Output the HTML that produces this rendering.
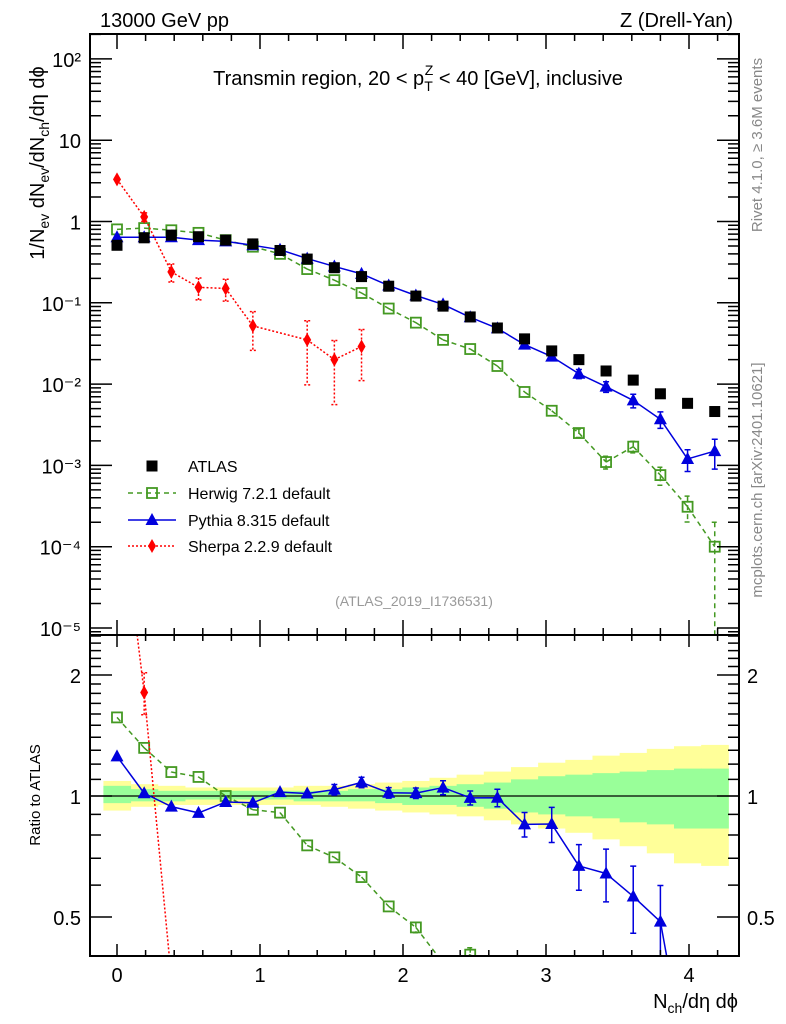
<!DOCTYPE html>
<html><head><meta charset="utf-8"><style>
html,body{margin:0;padding:0;background:#fff;overflow:hidden;width:786px;height:1024px;}
svg{display:block;font-family:"Liberation Sans",Arial,sans-serif;}
</style></head><body>
<svg id="chart" width="786" height="1024" viewBox="0 0 786 1024" xmlns="http://www.w3.org/2000/svg">
<defs>
<clipPath id="clipMain"><rect x="90" y="34" width="649" height="601"/></clipPath>
<clipPath id="clipRatio"><rect x="90" y="635" width="649" height="321"/></clipPath>
</defs>
<g id="bands" clip-path="url(#clipRatio)"></g>
<g id="marksMain" clip-path="url(#clipMain)"></g>
<g id="marksRatio" clip-path="url(#clipRatio)"></g>
<g id="axes"></g>
<text x="100" y="27" font-size="20">13000 GeV pp</text>
<text x="733" y="27" font-size="20" text-anchor="end">Z (Drell-Yan)</text>
<text x="418" y="85" font-size="20" text-anchor="middle">Transmin region, 20 &lt; p<tspan font-size="14" dy="6">T</tspan><tspan font-size="14" dx="-8" dy="-16">Z</tspan><tspan dy="10"> &lt; 40 [GeV], inclusive</tspan></text>
<text transform="translate(44,163) rotate(-90)" font-size="20" text-anchor="middle">1/N<tspan font-size="14" dy="5">ev</tspan><tspan dy="-5"> dN</tspan><tspan font-size="14" dy="5">ev</tspan><tspan dy="-5">/dN</tspan><tspan font-size="14" dy="5">ch</tspan><tspan dy="-5">/dη dϕ</tspan></text>
<text transform="translate(40,795) rotate(-90)" font-size="15" text-anchor="middle">Ratio to ATLAS</text>
<text x="738" y="1008" font-size="20" text-anchor="end">N<tspan font-size="14" dy="5">ch</tspan><tspan dy="-5">/dη dϕ</tspan></text>
<text transform="translate(762,145) rotate(-90)" font-size="15" fill="#888" text-anchor="middle">Rivet 4.1.0, ≥ 3.6M events</text>
<text transform="translate(762,480) rotate(-90)" font-size="15" fill="#888" text-anchor="middle">mcplots.cern.ch [arXiv:2401.10621]</text>
<text x="414" y="606" font-size="14" fill="#999" text-anchor="middle">(ATLAS_2019_I1736531)</text>
<g id="legend"></g>
</svg>
<script>
const xs = [0,0.19,0.38,0.57,0.76,0.95,1.14,1.33,1.52,1.71,1.9,2.09,2.28,2.47,2.66,2.85,3.04,3.23,3.42,3.61,3.8,3.99,4.18];
const atlas = [0.51,0.63,0.68,0.65,0.59,0.53,0.44,0.345,0.27,0.21,0.16,0.121,0.091,0.067,0.049,0.036,0.0256,0.020,0.0145,0.0112,0.0076,0.0058,0.0046];
const herwig = [0.80,0.83,0.78,0.725,0.59,0.49,0.40,0.26,0.19,0.132,0.085,0.057,0.035,0.027,0.0167,0.0080,0.0047,0.0025,0.0011,0.0017,0.00076,0.00031,0.0001];
const herwigErr = [0.01,0.01,0.01,0.01,0.01,0.01,0.01,0.01,0.01,0.02,0.02,0.03,0.03,0.04,0.05,0.06,0.08,0.12,0.18,0.16,0.25,0.35,1.0];
const pythia = [0.64,0.64,0.64,0.59,0.57,0.51,0.45,0.35,0.28,0.227,0.163,0.123,0.0955,0.0663,0.0485,0.0306,0.0218,0.0134,0.0093,0.0063,0.0037,0.0012,0.0015];
const pythiaErr = [0.01,0.01,0.01,0.01,0.01,0.01,0.02,0.02,0.03,0.03,0.03,0.03,0.04,0.04,0.05,0.07,0.1,0.13,0.15,0.19,0.23,0.3,0.4];
const sherpaX = [0,0.19,0.38,0.57,0.76,0.95,1.33,1.52,1.71];
const sherpa = [3.3,1.14,0.24,0.155,0.15,0.052,0.035,0.020,0.029];
const sherpaErr = [0.1,0.12,0.25,0.3,0.3,0.5,0.72,0.72,0.62];
const bandYUp = [0.09,0.07,0.06,0.05,0.05,0.05,0.05,0.06,0.06,0.07,0.08,0.09,0.11,0.13,0.15,0.18,0.21,0.23,0.26,0.28,0.31,0.33,0.34];
const bandYDn = [0.08,0.06,0.05,0.05,0.05,0.05,0.05,0.05,0.06,0.07,0.08,0.09,0.10,0.11,0.13,0.15,0.17,0.19,0.22,0.25,0.28,0.32,0.33];
const bandGUp = [0.06,0.04,0.03,0.03,0.03,0.03,0.03,0.03,0.03,0.04,0.04,0.05,0.06,0.07,0.08,0.10,0.12,0.13,0.14,0.15,0.16,0.17,0.17];
const bandGDn = [0.04,0.03,0.03,0.02,0.02,0.02,0.02,0.03,0.03,0.03,0.04,0.05,0.05,0.06,0.07,0.09,0.10,0.11,0.12,0.14,0.15,0.17,0.17];
const xTicks = [0,1,2,3,4];
const yTicksMain = [2,1,0,-1,-2,-3,-4,-5];
const yTickLabelsMain = ["10²","10","1","10⁻¹","10⁻²","10⁻³","10⁻⁴","10⁻⁵"];
const ratioTicks = [0.5,1,2];
const ratioTickLabels = ["0.5","1","2"];

const NS="http://www.w3.org/2000/svg";
const L=90,R=739,TOP=34,MB=635,RB=956;
const X=v=>117+143*v;
const YM=v=>221.5-81.3*Math.log10(v);
const YR=r=>796-121*Math.log2(r);
function mk(tag,attrs,parent){const e=document.createElementNS(NS,tag);for(const k in attrs)e.setAttribute(k,attrs[k]);parent.appendChild(e);return e;}
const axes=document.getElementById('axes'),mm=document.getElementById('marksMain'),mr=document.getElementById('marksRatio'),bands=document.getElementById('bands'),leg=document.getElementById('legend');

function band(up,dn,col,name){
  xs.forEach((x,i)=>{
    const x0=X(x-0.095),x1=X(x+0.095);
    const y0=YR(1+up[i]),y1=YR(1-dn[i]);
    const r=mk('rect',{x:x0,y:y0,width:x1-x0+0.5,height:y1-y0,fill:col},bands);
    
    
  });
}
band(bandYUp,bandYDn,'#ffff99','yellow-band');
band(bandGUp,bandGDn,'#99ff99','green-band');
const ref=mk('line',{x1:L,x2:R,y1:YR(1),y2:YR(1),stroke:'#000','stroke-width':1.3},bands);



function marker(type,cx,cy,col,parent,name){
  let e;
  if(type==='sq') e=mk('rect',{x:cx-5.5,y:cy-5.5,width:11,height:11,fill:'#000'},parent);
  else if(type==='osq') e=mk('rect',{x:cx-5,y:cy-5,width:10,height:10,fill:'none',stroke:col,'stroke-width':1.8},parent);
  else if(type==='tri') e=mk('path',{d:`M${cx},${cy-7}L${cx+6.5},${cy+5}L${cx-6.5},${cy+5}Z`,fill:col},parent);
  else e=mk('path',{d:`M${cx},${cy-7}L${cx+4},${cy}L${cx},${cy+7}L${cx-4},${cy}Z`,fill:col},parent);
  
  
  return e;
}
// clip segment vertically to [ymin,ymax] (geometric, keeps direction)
function clipSeg(a,b,ymin,ymax){
  let [x1,y1]=a,[x2,y2]=b;
  if((y1<ymin&&y2<ymin)||(y1>ymax&&y2>ymax))return null;
  const f=(y)=>x1+(x2-x1)*(y-y1)/(y2-y1);
  if(y1<ymin){x1=f(ymin);y1=ymin;} else if(y1>ymax){x1=f(ymax);y1=ymax;}
  [x2,y2]=b;
  const g=(y)=>a[0]+(b[0]-a[0])*(y-a[1])/(b[1]-a[1]);
  if(y2<ymin){x2=g(ymin);y2=ymin;} else if(y2>ymax){x2=g(ymax);y2=ymax;}
  return [x1,y1,x2,y2];
}
function series(xv,vals,errs,col,dash,type,name,parent,Y,ratio){
  const top=ratio?MB:TOP,bot=ratio?RB:MB;
  const pts=xv.map((x,i)=>{const v=ratio?vals[i]/atlas[xs.indexOf(x)]:vals[i];return [X(x),Y(v),v,errs[i]];});
  let d='';
  for(let i=0;i<pts.length-1;i++){
    const s=clipSeg(pts[i],pts[i+1],top-40,bot+40);
    if(s)d+=`M${s[0]},${s[1]}L${s[2]},${s[3]}`;
  }
  const ln=mk('path',{d:d,fill:'none',stroke:col,'stroke-width':1.5,'stroke-dasharray':dash},parent);
  
  
  pts.forEach(p=>{
    if(p[1]<top||p[1]>bot)return;
    const lo=Math.max(p[2]*(1-p[3]),1e-6),hi=p[2]*(1+p[3]);
    const y1=Math.max(Y(hi),top-20),y2=Math.min(Y(lo),bot+20);
    if(y2-y1>8){
      const eb=mk('path',{d:`M${p[0]},${y1}V${y2}M${p[0]-3},${y1}H${p[0]+3}M${p[0]-3},${y2}H${p[0]+3}`,stroke:col,'stroke-width':1.5,fill:'none','stroke-dasharray':dash},parent);
      
      
    }
    marker(type,p[0],p[1],col,parent,name+'-point');
  });
}
series(xs,herwig,herwigErr,'#449922','5,4','osq','herwig',mm,YM,false);
series(sherpaX,sherpa,sherpaErr,'#ff0000','2,2','dia','sherpa',mm,YM,false);
series(xs,pythia,pythiaErr,'#0000dd','','tri','pythia',mm,YM,false);
xs.forEach((x,i)=>marker('sq',X(x),YM(atlas[i]),'#000',mm,'atlas-point'));
series(xs,herwig,herwigErr,'#449922','5,4','osq','herwig-ratio',mr,YR,true);
series(sherpaX,sherpa,sherpaErr,'#ff0000','2,2','dia','sherpa-ratio',mr,YR,true);
series(xs,pythia,pythiaErr,'#0000dd','','tri','pythia-ratio',mr,YR,true);

const f1=mk('rect',{x:L,y:TOP,width:R-L,height:MB-TOP,fill:'none',stroke:'#000','stroke-width':2},axes);


const f2=mk('rect',{x:L,y:MB,width:R-L,height:RB-MB,fill:'none',stroke:'#000','stroke-width':2},axes);


let d='';
for(let v=-0.2;v<=4.35;v+=0.2){const vv=Math.round(v*10)/10;const px=X(vv);if(px<L||px>R)continue;
  const major=Math.abs(vv-Math.round(vv))<1e-6;const len=major?15:7;
  d+=`M${px},${MB}V${MB-len}M${px},${TOP}V${TOP+len}M${px},${RB}V${RB-(major?12:6)}M${px},${MB}V${MB+(major?12:6)}`;}
for(let e=-6;e<=2;e++){for(let m=1;m<10;m++){const py=YM(m*Math.pow(10,e));if(py<TOP||py>MB)continue;const len=m===1?22:11;d+=`M${L},${py}H${L+len}M${R},${py}H${R-len}`;}}
for(let r=0.4;r<=2.6;r+=0.1){const rr=Math.round(r*10)/10;const py=YR(rr);if(py<MB||py>RB)continue;const major=[0.5,1,2].includes(rr);const len=major?22:11;d+=`M${L},${py}H${L+len}M${R},${py}H${R-len}`;}
const tk=mk('path',{d:d,stroke:'#000','stroke-width':1.5,fill:'none'},axes);


xTicks.forEach(v=>{const t=mk('text',{x:X(v),y:982,'font-size':20,'text-anchor':'middle'},axes);t.textContent=v;
  
  });
yTicksMain.forEach((e,i)=>{const t=mk('text',{x:81,y:YM(Math.pow(10,e))+8,'font-size':20,'text-anchor':'end'},axes);t.textContent=yTickLabelsMain[i];
  
  });
ratioTicks.forEach((r,i)=>{
  const t=mk('text',{x:81,y:YR(r)+8,'font-size':20,'text-anchor':'end'},axes);t.textContent=ratioTickLabels[i];
  
  
  const t2=mk('text',{x:747,y:YR(r)+8,'font-size':20},axes);t2.textContent=ratioTickLabels[i];
  
  });

const legItems=[['ATLAS','sq','#000',''],['Herwig 7.2.1 default','osq','#449922','5,4'],['Pythia 8.315 default','tri','#0000dd',''],['Sherpa 2.2.9 default','dia','#ff0000','2,2']];
const legY=[466,493,520,546];
legItems.forEach((it,i)=>{
  const g=mk('g',{},leg);
  
  
  if(i>0) mk('line',{x1:128,x2:176,y1:legY[i],y2:legY[i],stroke:it[2],'stroke-width':1.5,'stroke-dasharray':it[3]},g);
  marker(it[1],152,legY[i],it[2],g,'legend-marker');
  const t=mk('text',{x:188,y:legY[i]+6,'font-size':16},g);t.textContent=it[0];
});
</script>
</body></html>
